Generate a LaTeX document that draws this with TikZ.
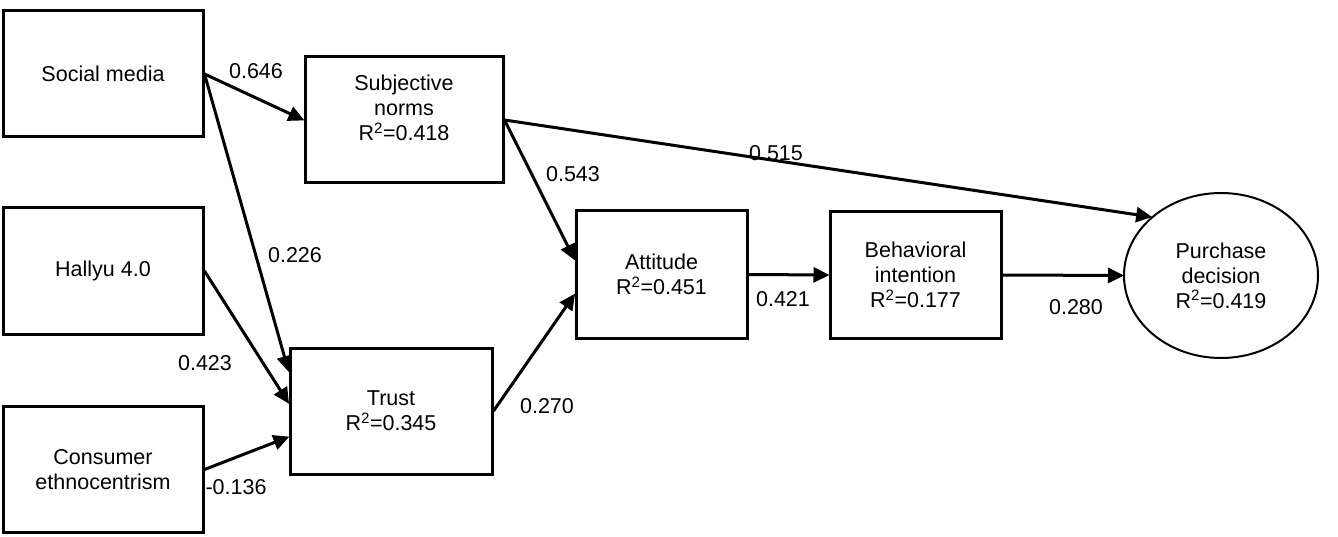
\documentclass[tikz,border=0pt]{standalone}
\usepackage{fontspec}
\setmainfont{Liberation Sans}
\usetikzlibrary{arrows.meta,shapes.geometric}

\begin{document}
\begin{tikzpicture}[
  x=1pt, y=-1pt,
  font=\fontsize{21.5}{25}\selectfont,
  box/.style={draw, line width=3pt, align=center, inner sep=2pt, minimum width=200pt, minimum height=126pt},
  mbox/.style={box, minimum width=171pt, minimum height=127pt},
  oval/.style={draw, ellipse, line width=2pt, align=center, inner sep=0pt, minimum width=194pt, minimum height=165pt},
  txt/.style={align=center, inner sep=0pt},
  use/.style={-{Triangle[length=16pt, width=15pt]}, line width=3pt, shorten >=-1pt},
  coef/.style={inner sep=0pt}
]
\useasboundingbox (0,0) rectangle (1338,537);

% exogenous constructs
\node[box] (sm)  at (103,74)    {Social media};
\node[box] (hal) at (103,271)   {Hallyu 4.0};
\node[box] (ce)  at (103,469.5) {Consumer\\ethnocentrism};

% mediators
\node[box, minimum width=198pt] (sn) at (404,120) {};
\node[txt] (snt) at ([yshift=12pt]sn.center) {Subjective\\norms\\R\textsuperscript{2}=0.418};
\node[box, minimum width=202pt] (tr) at (391,411) {Trust\\R\textsuperscript{2}=0.345};
\node[mbox] (att) at (661.5,274.5) {Attitude\\R\textsuperscript{2}=0.451};
\node[mbox] (bi)  at (915.5,275)   {Behavioral\\intention\\R\textsuperscript{2}=0.177};

% outcome
\node[oval] (pd) at (1221,275.5) {Purchase\\decision\\R\textsuperscript{2}=0.419};

% paths
\draw[use] (sm.east) -- (sn.west);
\draw[use] (sm.east) -- ([yshift=40pt]tr.west);
\draw[use] (hal.east) -- ([yshift=8pt]tr.west);
\draw[use] (ce.east) -- ([yshift=-26pt]tr.west);
\draw[use] (sn.east) -- ([yshift=15pt]att.west);
\draw[use] (sn.east) -- (pd.140);
\draw[use] (tr.east) -- ([yshift=-20pt]att.west);
\draw[use] (att.east) -- (bi.west);
\draw[use] (bi.east) -- (pd.west);

% path coefficients
\node[coef] (c1) at (256,71)  {0.646};
\node[coef] (c2) at (295,255) {0.226};
\node[coef] (c3) at (205,363) {0.423};
\node[coef] (c4) at (236,487) {-0.136};
\node[coef] (c5) at (573,174) {0.543};
\node[coef] (c6) at (776,153) {0.515};
\node[coef] (c7) at (547,406) {0.270};
\node[coef] (c8) at (783,299) {0.421};
\node[coef] (c9) at (1076,307) {0.280};
\end{tikzpicture}
\end{document}
